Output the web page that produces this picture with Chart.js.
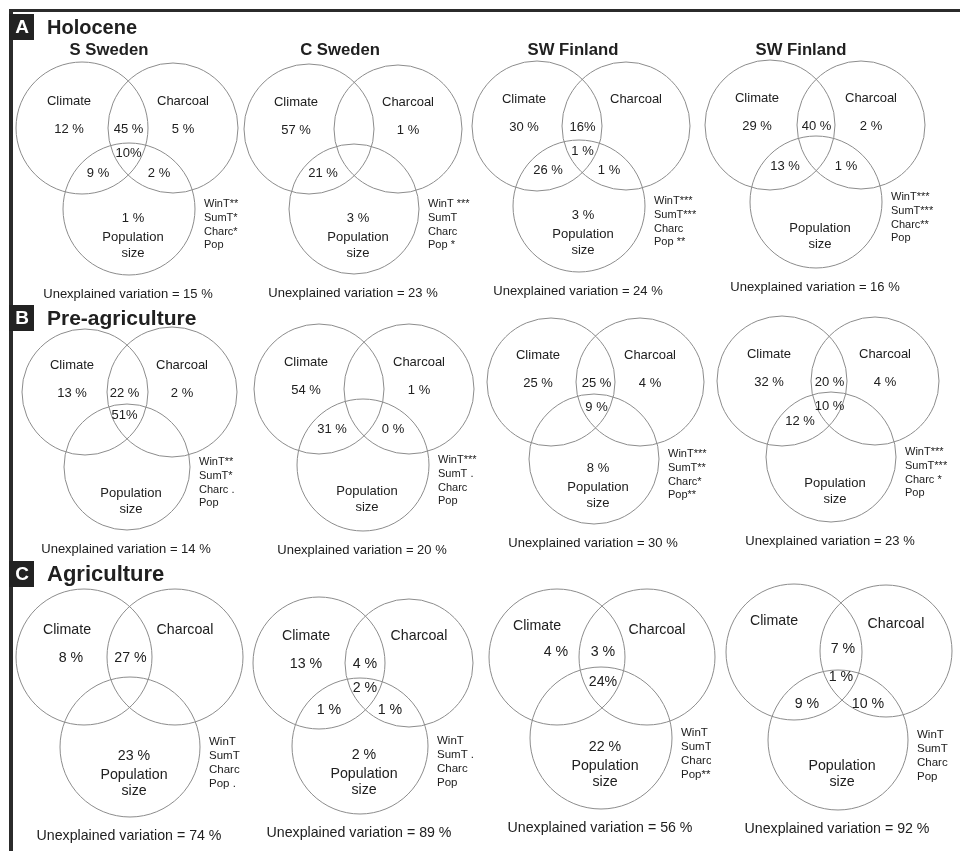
<!DOCTYPE html>
<html>
<head>
<meta charset="utf-8">
<script src="https://cdn.jsdelivr.net/npm/chart.js@4.4.1/dist/chart.umd.min.js"></script>
<style>
  html, body { margin: 0; padding: 0; background: #fff; }
  #wrap { width: 960px; height: 851px; position: relative; }
</style>
</head>
<body>
<div id="wrap"><canvas id="venn"></canvas></div>
<script>
// Variation partitioning among climate, charcoal and population size,
// for three periods (rows) and four regional records (columns).
const periods = ['Holocene', 'Pre-agriculture', 'Agriculture'];
const periodLetters = ['A', 'B', 'C'];
const regions = ['S Sweden', 'C Sweden', 'SW Finland', 'SW Finland'];
const setNames = ['Climate', 'Charcoal', 'Population size'];

// Fractions of explained variation (%); null = no label in that region
const climateOnly        = [[12, 57, 30, 29], [13, 54, 25, 32], [8, 13, 4, null]];
const charcoalOnly       = [[5, 1, null, 2], [2, 1, 4, 4], [null, null, null, null]];
const populationOnly     = [[1, 3, 3, null], [null, null, 8, null], [23, 2, 22, null]];
const climateCharcoal    = [[45, null, 16, 40], [22, null, 25, 20], [27, 4, 3, 7]];
const climatePopulation  = [[9, 21, 26, 13], [null, 31, null, 12], [null, 1, null, 9]];
const charcoalPopulation = [[2, null, 1, 1], [null, 0, null, null], [null, 1, null, 10]];
const allThree           = [[10, null, 1, null], [51, null, 9, 10], [null, 2, 24, 1]];
const unexplained        = [[15, 23, 24, 16], [14, 20, 30, 23], [74, 89, 56, 92]];

// Significance codes of the predictors
const predictors = ['WinT', 'SumT', 'Charc', 'Pop'];
const sigWinT  = [['**', ' ***', '***', '***'], ['**', '***', '***', '***'], ['', '', '', '']];
const sigSumT  = [['*', '', '***', '***'], ['*', ' .', '**', '***'], ['', ' .', '', '']];
const sigCharc = [['*', '', '', '**'], [' .', '', '*', ' *'], ['', '', '', '']];
const sigPop   = [['', ' *', ' **', ''], ['', '', '**', ''], [' .', '', '**', '']];

// Cells printed without a space before the percent sign
const tightCells = ['0-0-all', '0-2-cc', '1-0-all', '2-2-all'];

// ---- drawing layout (pixels on a 960 x 851 canvas) ----
const layout = {
  circles: [ // [cx, cy, radius] of Climate, Charcoal, Population
    [[[82,128,66],[173,128,65],[129,209,66]], [[309,129,65],[398,129,64],[354,209,65]],
     [[537,126,65],[626,126,64],[579,206,66]], [[770,125,65],[861,125,64],[816,202,66]]],
    [[[85,392,63],[172,392,65],[127,467,63]], [[319,389,65],[409,389,65],[363,465,66]],
     [[551,382,64],[640,382,64],[594,459,65]], [[782,381,65],[875,381,64],[831,457,65]]],
    [[[84,657,68],[175,657,68],[130,747,70]], [[319,663,66],[409,663,64],[360,746,68]],
     [[557,657,68],[647,657,68],[601,738,71]], [[794,652,68],[886,651,66],[838,740,70]]]
  ],
  titleX: [109, 340, 573, 801],
  titleY: 50,
  headingY: [27, 318, 574],
  headingSize: [20, 21, 22],
  textSize: [13, 13, 14.2],
  statSize: [11, 11, 11.5],
  nudges: {
    '1-0-cc': [-5, 0], '1-0-all': [-5, -2],
    '2-2-climPct': [12, -6], '2-2-climLabel': [-7, -4], '2-2-cc': [0, -6],
    '2-3-climLabel': [-7, -4], '2-3-cc': [2, -4], '2-0-climLabel': [-4, 0]
  },
  clipRight: { '2-2': 711 }
};

const FONT = '"Liberation Sans", Arial, Helvetica, sans-serif';
const INK = '#202020';

function panelList() {
  const out = [];
  for (let r = 0; r < periods.length; r++)
    for (let c = 0; c < regions.length; c++) out.push([r, c]);
  return out;
}

// One scatter dataset per set; each point is one circle of a diagram
const datasets = setNames.map((name, k) => ({
  label: name,
  data: panelList().map(([r, c]) => {
    const [cx, cy, rad] = layout.circles[r][c][k];
    return { x: cx, y: cy, size: rad };
  }),
  showLine: false,
  clip: false,
  pointStyle: 'circle',
  pointBackgroundColor: 'rgba(0,0,0,0)',
  pointBorderColor: '#8c8c8c',
  pointBorderWidth: 1,
  pointHoverRadius: ctx => radiusPx(ctx),
  pointRadius: ctx => radiusPx(ctx)
}));

function radiusPx(ctx) {
  const sx = ctx.chart.scales.x;
  if (!sx || !ctx.raw) return 0;
  return Math.abs(sx.getPixelForValue(ctx.raw.x + ctx.raw.size) - sx.getPixelForValue(ctx.raw.x));
}

function fmt(v, key) {
  return tightCells.includes(key) ? v + '%' : v + ' %';
}

const textPlugin = {
  id: 'vennText',
  afterDatasetsDraw(chart) {
    const { ctx } = chart;
    const sx = chart.scales.x, sy = chart.scales.y;
    const X = v => sx.getPixelForValue(v);
    const Y = v => sy.getPixelForValue(v);

    ctx.save();
    // frame
    ctx.fillStyle = '#2b2b2b';
    ctx.fillRect(X(9), Y(9), X(960) - X(9), Y(12) - Y(9));
    ctx.fillRect(X(9), Y(9), X(13) - X(9), Y(851) - Y(9));

    // period headings with letter tags
    periods.forEach((p, r) => {
      const hy = layout.headingY[r];
      ctx.fillStyle = '#222';
      ctx.fillRect(X(9), Y(hy - 13), X(34) - X(9), Y(hy + 13) - Y(hy - 13));
      ctx.fillStyle = '#fff';
      ctx.font = `bold 19px ${FONT}`;
      ctx.textAlign = 'center';
      ctx.textBaseline = 'middle';
      ctx.fillText(periodLetters[r], X(22), Y(hy + 1));
      ctx.fillStyle = INK;
      ctx.font = `bold ${layout.headingSize[r]}px ${FONT}`;
      ctx.textAlign = 'left';
      ctx.fillText(p, X(47), Y(hy + 1));
    });

    // region titles
    ctx.fillStyle = INK;
    ctx.font = `bold 16.7px ${FONT}`;
    ctx.textAlign = 'center';
    regions.forEach((name, c) => ctx.fillText(name, X(layout.titleX[c]), Y(layout.titleY)));

    panelList().forEach(([r, c]) => {
      const [c1, c2, c3] = layout.circles[r][c];
      const mid = (c1[0] + c2[0]) / 2;
      const size = layout.textSize[r];
      const put = (key, txt, x, y) => {
        const n = layout.nudges[`${r}-${c}-${key}`] || [0, 0];
        ctx.fillText(txt, X(x + n[0]), Y(y + n[1]));
      };
      const cellKey = k => `${r}-${c}-${k}`;
      ctx.fillStyle = INK;
      ctx.textAlign = 'center';
      ctx.textBaseline = 'middle';
      ctx.font = `${size}px ${FONT}`;

      put('climLabel', 'Climate', c1[0] - 13, c1[1] - 27);
      put('charLabel', 'Charcoal', c2[0] + 10, c2[1] - 27);

      const cells = [
        ['climPct', climateOnly, c1[0] - 13, c1[1] + 1],
        ['charPct', charcoalOnly, c2[0] + 10, c2[1] + 1],
        ['cc', climateCharcoal, mid + 1, c1[1] + 1],
        ['all', allThree, mid + 1, c1[1] + 25],
        ['cp', climatePopulation, c3[0] - 31, c3[1] - 36],
        ['hp', charcoalPopulation, c3[0] + 30, c3[1] - 36],
        ['popPct', populationOnly, c3[0] + 4, c3[1] + 9]
      ];
      cells.forEach(([key, arr, x, y]) => {
        const v = arr[r][c];
        if (v !== null && v !== undefined) put(key, fmt(v, cellKey(key)), x, y);
      });

      const hasPop = populationOnly[r][c] !== null;
      const py = c3[1] + (hasPop ? 28 : 26);
      put('popLabel', 'Population', c3[0] + 4, py);
      put('size', 'size', c3[0] + 4, py + 16);

      put('unexpl', `Unexplained variation = ${unexplained[r][c]} %`, c3[0] - 1, c3[1] + c3[2] + 19);

      // predictor significance list
      const clip = layout.clipRight[`${r}-${c}`];
      ctx.save();
      if (clip) {
        ctx.beginPath();
        ctx.rect(0, 0, X(clip), Y(851));
        ctx.clip();
      }
      ctx.font = `${layout.statSize[r]}px ${FONT}`;
      ctx.textAlign = 'left';
      const sigs = [sigWinT, sigSumT, sigCharc, sigPop];
      const sx0 = c3[0] + c3[2] + 9;
      predictors.forEach((pname, i) => {
        ctx.fillText(pname + sigs[i][r][c], X(sx0), Y(c3[1] - 5 + i * 13.8));
      });
      ctx.restore();
    });
    ctx.restore();
  }
};

new Chart(document.getElementById('venn'), {
  type: 'scatter',
  data: { datasets },
  options: {
    responsive: true,
    maintainAspectRatio: false,
    animation: false,
    events: [],
    layout: { padding: 0 },
    plugins: { legend: { display: false }, tooltip: { enabled: false } },
    scales: {
      x: { type: 'linear', min: 0, max: 960, display: false },
      y: { type: 'linear', min: 0, max: 851, reverse: true, display: false }
    }
  },
  plugins: [textPlugin]
});
</script>
</body>
</html>
